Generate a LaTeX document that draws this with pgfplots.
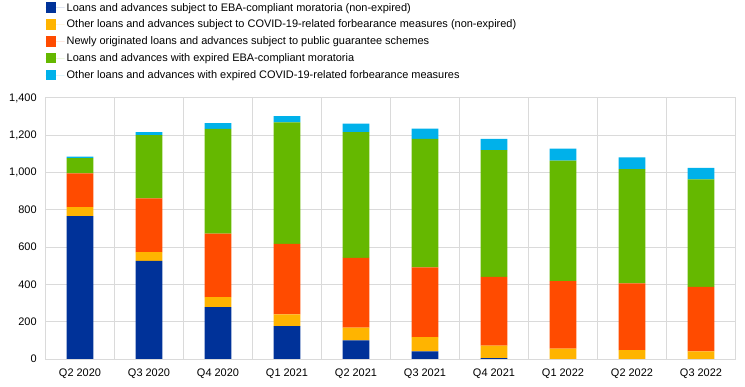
\documentclass[border=0pt]{standalone}
\usepackage{pgfplots}
\pgfplotsset{compat=1.18}
\usepackage{fontspec}
\setmainfont{Liberation Sans}
\definecolor{cBlue}{HTML}{003299}
\definecolor{cYellow}{HTML}{FFB400}
\definecolor{cRed}{HTML}{FF4B00}
\definecolor{cGreen}{HTML}{65B800}
\definecolor{cCyan}{HTML}{00B1EA}
\definecolor{cGrid}{HTML}{DADADA}
\begin{document}
\fontsize{11}{12.5}\selectfont
\begin{tikzpicture}
\useasboundingbox (-45.5bp,-28bp) rectangle (699.5bp,359bp);
\begin{axis}[
  at={(0,0)}, anchor=south west,
  scale only axis,
  width=690bp, height=261bp,
  ybar stacked,
  bar width=0.39,
  xmin=-0.5, xmax=9.5,
  ymin=0, ymax=1400,
  ytick={0,200,...,1400},
  xtick={0,...,9},
  xticklabels={Q2 2020,Q3 2020,Q4 2020,Q1 2021,Q2 2021,Q3 2021,Q4 2021,Q1 2022,Q2 2022,Q3 2022},
  minor xtick={0.5,1.5,...,8.5},
  ymajorgrids, xminorgrids,
  grid style={cGrid, line width=1bp},
  minor grid style={cGrid, line width=1bp},
  axis line style={cGrid, line width=1bp},
  major tick length=0pt, minor tick length=0pt,
  tick style={draw=none},
  /pgf/number format/assume math mode=true,
  /pgf/number format/1000 sep={,},
  tick label style={font=\fontsize{11}{12.5}\selectfont, text=black},
  yticklabel style={xshift=-5bp},
  xticklabel style={yshift=-6bp},
  legend style={at={(0,1.3755)}, anchor=north west, draw=none, fill=none,
    font=\fontsize{11}{12.5}\selectfont, row sep=3.2bp, inner xsep=0pt, inner ysep=1bp,
    legend cell align=left},
  legend image code/.code={\fill[#1] (0bp,-5bp) rectangle (10.5bp,5.5bp); \path (0bp,0bp) -- (19bp,0bp);},
]
\addplot[fill=cBlue, draw=none] coordinates {(0,767) (1,527) (2,278) (3,176) (4,100) (5,41) (6,5) (7,0) (8,0) (9,0)};
\addplot[fill=cYellow, draw=none] coordinates {(0,48) (1,46) (2,54) (3,64) (4,68) (5,77) (6,67) (7,56) (8,48) (9,41)};
\addplot[fill=cRed, draw=none] coordinates {(0,181) (1,289) (2,340) (3,378) (4,375) (5,373) (6,369) (7,362) (8,357) (9,346)};
\addplot[fill=cGreen, draw=none] coordinates {(0,81) (1,339) (2,563) (3,651) (4,674) (5,690) (6,679) (7,646) (8,613) (9,577)};
\addplot[fill=cCyan, draw=none] coordinates {(0,9) (1,16) (2,30) (3,34) (4,46) (5,55) (6,61) (7,65) (8,64) (9,61)};
\legend{Loans and advances subject to EBA-compliant moratoria (non-expired),
Other loans and advances subject to COVID-19-related forbearance measures (non-expired),
Newly originated loans and advances subject to public guarantee schemes,
Loans and advances with expired EBA-compliant moratoria,
Other loans and advances with expired COVID-19-related forbearance measures}
\end{axis}
\end{tikzpicture}
\end{document}
